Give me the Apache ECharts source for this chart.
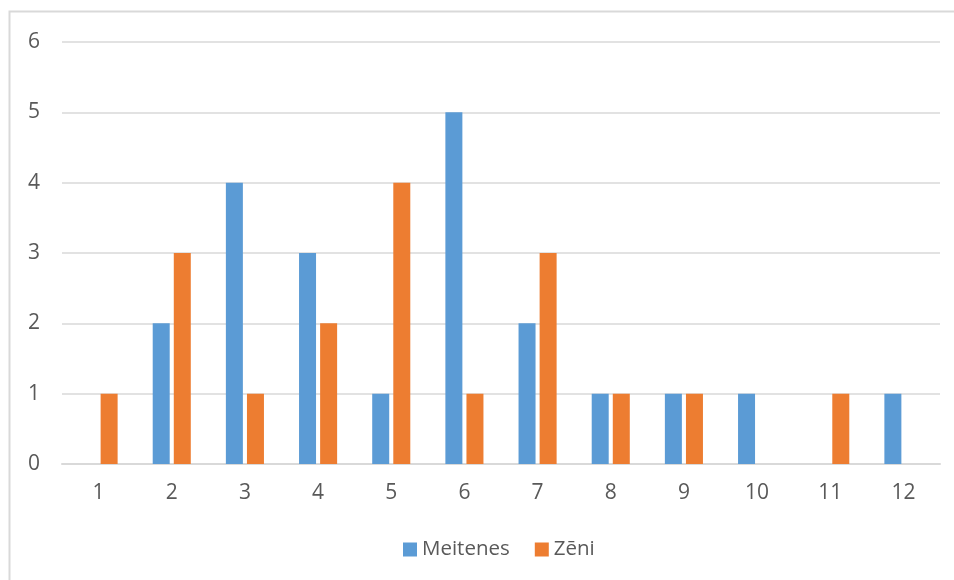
<!DOCTYPE html>
<html><head><meta charset="utf-8">
<script src="https://cdn.jsdelivr.net/npm/echarts@6/dist/echarts.min.js"></script>
<style>html,body{margin:0;padding:0;background:#fff}#c{width:954px;height:580px}</style>
</head><body><div id="c"></div>
<script>
const categories = ['1','2','3','4','5','6','7','8','9','10','11','12'];
const meitenes = [0,2,4,3,1,5,2,1,1,1,0,1];
const zeni = [1,3,1,2,4,1,3,1,1,0,1,0];
const seriesNames = ['Meitenes','Zēni'];
const font = 'Open Sans';
const chart = echarts.init(document.getElementById('c'));
chart.setOption({
  animation:false,
  backgroundColor:'#fff',
  graphic:[{type:'rect',shape:{x:9.5,y:11.5,width:960,height:600},style:{fill:'none',stroke:'#D9D9D9',lineWidth:2},silent:true}],
  grid:{left:62,right:14,top:42,bottom:116,containLabel:false},
  legend:{bottom:15,left:398,itemWidth:14,itemHeight:14,itemGap:25,itemTextGap:6,icon:'rect',
    textStyle:{color:'#595959',fontSize:20.5,fontFamily:font},data:seriesNames},
  xAxis:{type:'category',data:categories,
    axisLine:{lineStyle:{color:'#D9D9D9',width:2}},axisTick:{show:false},
    axisLabel:{color:'#595959',fontSize:21,fontFamily:font,margin:19}},
  yAxis:{type:'value',min:0,max:6,interval:1,
    axisLine:{show:false},axisTick:{show:false},
    splitLine:{lineStyle:{color:'#D9D9D9',width:1.5}},
    axisLabel:{color:'#595959',fontSize:21,fontFamily:font,margin:22}},
  series:[
    {name:seriesNames[0],type:'bar',data:meitenes,barWidth:17,barGap:'24%',itemStyle:{color:'#5B9BD5'}},
    {name:seriesNames[1],type:'bar',data:zeni,barWidth:17,barGap:'24%',itemStyle:{color:'#ED7D31'}}
  ]
});
</script></body></html>
